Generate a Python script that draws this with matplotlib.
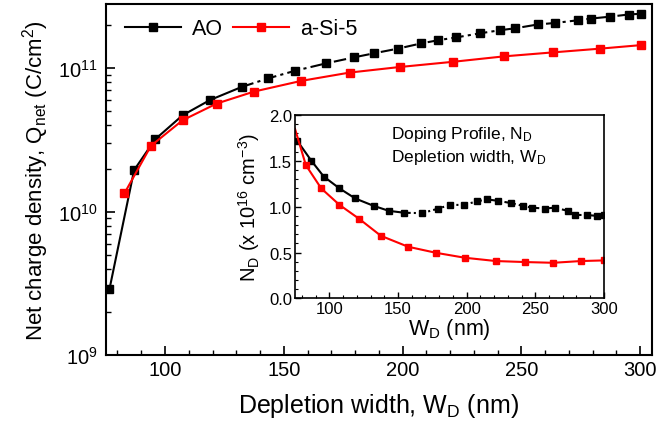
import numpy as np
import matplotlib.pyplot as plt
from matplotlib.ticker import MultipleLocator, LogLocator

plt.rcParams['font.family'] = ['Liberation Sans', 'DejaVu Sans']
plt.rcParams['mathtext.fontset'] = 'custom'
plt.rcParams['mathtext.rm'] = 'Liberation Sans'
plt.rcParams['mathtext.it'] = 'Liberation Sans:italic'

# depletion width (nm)
w_ao = [76.6, 87.0, 95.9, 107.4, 118.9, 132.2, 143.4, 154.7, 167.6, 179.4, 187.8,
        198.0, 207.8, 215.1, 222.5, 232.4, 240.8, 247.4, 256.9, 264.3, 273.7,
        279.2, 287.4, 295.1, 300.4]
w_si = [82.9, 94.1, 107.4, 121.7, 137.5, 157.4, 177.7, 198.7, 221.4, 242.6,
        263.2, 283.1, 300.3]

# net charge density (C/cm2)
q_ao = [2.87e9, 1.95e10, 3.2e10, 4.7e10, 6.0e10, 7.4e10, 8.5e10, 9.6e10, 1.08e11,
        1.19e11, 1.27e11, 1.37e11, 1.49e11, 1.57e11, 1.64e11, 1.75e11, 1.84e11,
        1.90e11, 2.02e11, 2.07e11, 2.16e11, 2.22e11, 2.29e11, 2.37e11, 2.40e11]
q_si = [1.34e10, 2.88e10, 4.34e10, 5.67e10, 6.88e10, 8.17e10, 9.33e10, 1.02e11,
        1.11e11, 1.21e11, 1.29e11, 1.37e11, 1.45e11]

# doping profile (x 1e16 cm-3)
n_ao = [1.72, 1.50, 1.33, 1.20, 1.09, 1.01, 0.955, 0.934, 0.93, 0.98, 1.02,
        1.02, 1.06, 1.08, 1.065, 1.04, 1.01, 0.99, 0.98, 0.99, 0.955, 0.91,
        0.91, 0.90, 0.91]
w_si_in = [75.0] + w_si
n_si = [1.85, 1.454, 1.20, 1.02, 0.868, 0.683, 0.563, 0.497, 0.443, 0.407,
        0.396, 0.388, 0.407, 0.414]

red = '#ff0000'
dashdot = (0, (6, 2, 1.5, 2))

fig = plt.figure(figsize=(6.6, 4.27), dpi=100)
ax = fig.add_axes([0.160, 0.166, 0.828, 0.822])

k = 5
ax.plot(w_ao[:k + 1], q_ao[:k + 1], color='black', lw=1.5)
ax.plot(w_ao[k:], q_ao[k:], color='black', lw=1.5, linestyle=dashdot)
ax.plot(w_ao, q_ao, linestyle='none', marker='s', ms=5.5, color='black', mec='black')
ax.plot(w_si, q_si, color=red, lw=1.5, marker='s', ms=6, mec=red)

# legend handles
ax.plot([], [], color='black', lw=1.5, marker='s', ms=5.5, label='AO')
ax.plot([], [], color=red, lw=1.5, marker='s', ms=5.5, label='a-Si-5')
hs, ls = ax.get_legend_handles_labels()
ax.legend(hs[-2:], ls[-2:], loc='upper left', bbox_to_anchor=(0.0, 1.015), ncol=2,
          frameon=False, fontsize=15.5, handlelength=2.6, handletextpad=0.5,
          columnspacing=0.5)

ax.set_yscale('log')
ax.set_xlim(75, 305)
ax.set_ylim(1e9, 2.8e11)
ax.xaxis.set_major_locator(MultipleLocator(50))
ax.xaxis.set_minor_locator(MultipleLocator(10))
ax.yaxis.set_major_locator(LogLocator(base=10, numticks=10))
ax.yaxis.set_minor_locator(LogLocator(base=10, subs=np.arange(2, 10), numticks=20))
ax.tick_params(which='both', direction='in', top=False, right=False, labelsize=14.5)
ax.tick_params(which='major', length=6.5, width=1.2)
ax.tick_params(which='minor', length=3.5, width=1.0)
ax.tick_params(axis='y', pad=6)
for s in ax.spines.values():
    s.set_linewidth(1.5)
ax.set_xlabel('Depletion width, W$_\\mathrm{D}$ (nm)', fontsize=18, labelpad=9)
ax.set_ylabel('Net charge density, Q$_\\mathrm{net}$ (C/cm$^2$)', fontsize=16, labelpad=5)

# inset
ins = fig.add_axes([0.447, 0.299, 0.468, 0.429])
m = 7
ins.plot(w_ao[:m + 1], n_ao[:m + 1], color='black', lw=1.5)
ins.plot(w_ao[m:], n_ao[m:], color='black', lw=1.5, linestyle=(0, (3, 1.5, 1, 1.5)))
ins.plot(w_ao, n_ao, linestyle='none', marker='s', ms=4.5, color='black')
ins.plot(w_si_in, n_si, color=red, lw=1.5, marker='s', ms=4.5, mec=red,
         markevery=list(range(1, len(n_si))))
ins.set_xlim(75, 300)
ins.set_ylim(0, 2.0)
ins.xaxis.set_major_locator(MultipleLocator(50))
ins.xaxis.set_minor_locator(MultipleLocator(10))
ins.yaxis.set_major_locator(MultipleLocator(0.5))
ins.yaxis.set_minor_locator(MultipleLocator(0.1))
ins.yaxis.set_major_formatter(plt.FormatStrFormatter('%.1f'))
ins.tick_params(which='both', direction='in', top=False, right=False, labelsize=12, pad=2)
ins.tick_params(which='major', length=4, width=1.0)
ins.tick_params(which='minor', length=2, width=0.8)
for s in ins.spines.values():
    s.set_linewidth(1.2)
ins.set_xlabel('W$_\\mathrm{D}$ (nm)', fontsize=15.5, labelpad=0)
ins.set_ylabel('N$_\\mathrm{D}$ (x 10$^{16}$ cm$^{-3}$)', fontsize=14.5, labelpad=5)
ins.text(0.31, 0.90, 'Doping Profile, N$_\\mathrm{D}$', transform=ins.transAxes,
         fontsize=12.5, va='center', ha='left')
ins.text(0.31, 0.775, 'Depletion width, W$_\\mathrm{D}$', transform=ins.transAxes,
         fontsize=12.5, va='center', ha='left')

fig.savefig('out.png', dpi=100)
